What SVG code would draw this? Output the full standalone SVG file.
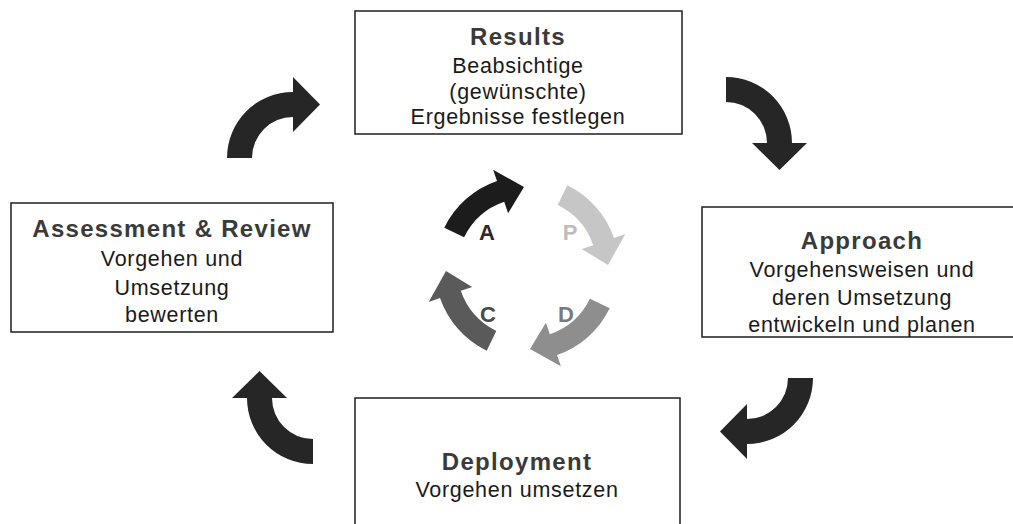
<svg xmlns="http://www.w3.org/2000/svg" width="1013" height="524" viewBox="0 0 1013 524">
  <style>
    .box { fill: #ffffff; stroke: #1e1e1e; stroke-width: 1.5; }
    .head { font-family: "Liberation Sans", Arial, sans-serif; font-weight: bold; font-size: 24px; letter-spacing: 1.3px; fill: #3a3a3a; text-anchor: middle; }
    .body { font-family: "Liberation Sans", Arial, sans-serif; font-size: 21.5px; letter-spacing: 0.7px; fill: #1a1a1a; text-anchor: middle; }
    .big-arrow { fill: #262626; }
    .letter { font-family: "Liberation Sans", Arial, sans-serif; font-weight: bold; font-size: 22px; text-anchor: middle; }
  </style>
  <defs>
    <!-- quarter-ring arrow: tail on the left, head at the top pointing right -->
    <path id="bigArrow" d="M -66 0 A 66 66 0 0 1 0 -66 L 0 -81 L 27 -53.5 L 0 -26 L 0 -41 A 41 41 0 0 0 -41 0 Z"/>
    <!-- small cycle arrow around the cycle centre -->
    <path id="cycleArrow" d="M -82.7 -40.3 A 92 92 0 0 1 -30 -87 L -33.9 -98.3 L -3 -81 L -18.9 -54.8 L -22.8 -66.2 A 70 70 0 0 0 -62.9 -30.7 Z"/>
  </defs>

  <rect width="1013" height="524" fill="#ffffff"/>

  <!-- connectors between the four stages -->
  <g id="connectors" class="big-arrow">
    <use href="#bigArrow" transform="translate(293,158)"/>
    <use href="#bigArrow" transform="translate(726,143) rotate(90)"/>
    <use href="#bigArrow" transform="translate(747,378) rotate(180)"/>
    <use href="#bigArrow" transform="translate(313,398) rotate(270)"/>
  </g>

  <g id="node-results">
    <rect class="box" x="355" y="11" width="327" height="123"/>
    <text class="head" x="518" y="45">Results</text>
    <text class="body" x="518" y="73">Beabsichtige</text>
    <text class="body" x="518" y="99">(gewünschte)</text>
    <text class="body" x="518" y="124">Ergebnisse festlegen</text>
  </g>

  <g id="node-approach">
    <rect class="box" x="702" y="207" width="330" height="130"/>
    <text class="head" x="862" y="249">Approach</text>
    <text class="body" x="862" y="277">Vorgehensweisen und</text>
    <text class="body" x="862" y="305">deren Umsetzung</text>
    <text class="body" x="862" y="332">entwickeln und planen</text>
  </g>

  <g id="node-deployment">
    <rect class="box" x="355" y="398" width="325" height="140"/>
    <text class="head" x="517" y="470">Deployment</text>
    <text class="body" x="517" y="497">Vorgehen umsetzen</text>
  </g>

  <g id="node-assessment">
    <rect class="box" x="11" y="203" width="322" height="129"/>
    <text class="head" x="172" y="237">Assessment &amp; Review</text>
    <text class="body" x="172" y="266">Vorgehen und</text>
    <text class="body" x="172" y="295">Umsetzung</text>
    <text class="body" x="172" y="322">bewerten</text>
  </g>

  <!-- PDCA cycle in the middle -->
  <g id="node-pdca">
    <use href="#cycleArrow" fill="#1c1c1c" transform="translate(527,268)"/>
    <use href="#cycleArrow" fill="#c6c6c6" transform="translate(527,268) rotate(90)"/>
    <use href="#cycleArrow" fill="#8e8e8e" transform="translate(527,268) rotate(180)"/>
    <use href="#cycleArrow" fill="#5a5a5a" transform="translate(527,268) rotate(270)"/>
    <text class="letter" x="487" y="240" fill="#2a2a2a">A</text>
    <text class="letter" x="570" y="240" fill="#bdbdbd">P</text>
    <text class="letter" x="566" y="322" fill="#7a7a7a">D</text>
    <text class="letter" x="488" y="322" fill="#4a4a4a">C</text>
  </g>
</svg>
